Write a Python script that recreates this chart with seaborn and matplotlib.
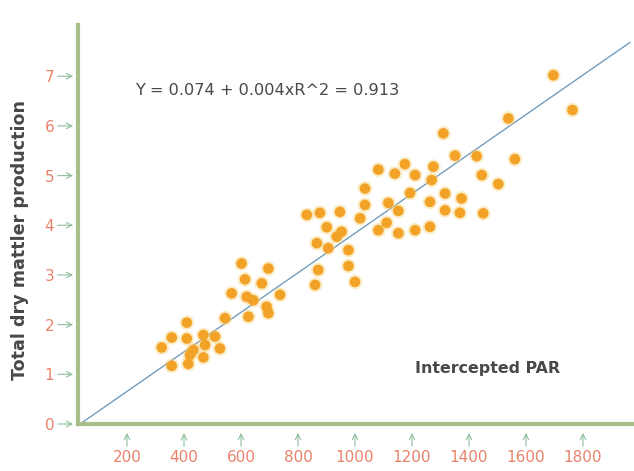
"""
Dry matter production vs intercepted PAR - scatter with fitted line
"""

import numpy as np
import pandas as pd
import matplotlib
matplotlib.use("Agg")
import matplotlib.pyplot as plt
import seaborn as sns

sns.set_style("white")
plt.rcParams['font.family'] = ['DejaVu Sans']

# Data
par = [410, 357, 410, 468, 509, 322, 474, 526, 421, 468, 357, 415, 433,
       602, 696, 614, 673, 567, 620, 643, 737, 690, 696, 626, 544,
       831, 877, 947, 1035, 1018, 1117, 901, 953, 936, 866, 906, 977,
       1082, 1111, 1152, 1211, 1263, 871, 977, 860, 1000,
       1035, 1082, 1175, 1140, 1211, 1275, 1269, 1193, 1263, 1152,
       1316, 1374, 1316, 1368, 1450,
       1310, 1351, 1427, 1561, 1445, 1503, 1538, 1696, 1763]
dry_matter = [2.04, 1.74, 1.72, 1.79, 1.76, 1.54, 1.59, 1.52, 1.39, 1.34, 1.17, 1.21, 1.49,
              3.23, 3.13, 2.91, 2.83, 2.63, 2.56, 2.49, 2.60, 2.36, 2.23, 2.16, 2.13,
              4.21, 4.25, 4.27, 4.41, 4.14, 4.45, 3.96, 3.87, 3.77, 3.64, 3.54, 3.50,
              3.90, 4.05, 3.84, 3.90, 3.97, 3.10, 3.18, 2.80, 2.86,
              4.74, 5.12, 5.23, 5.04, 5.01, 5.18, 4.91, 4.65, 4.47, 4.29,
              4.64, 4.54, 4.30, 4.25, 4.24,
              5.85, 5.40, 5.39, 5.33, 5.01, 4.83, 6.15, 7.02, 6.32]

# fitted line as drawn in the picture
fit_intercept = -0.14
fit_slope = 0.00398
fit_range = [35, 1965]

x_ticks = [200, 400, 600, 800, 1000, 1200, 1400, 1600, 1800]
y_ticks = [0, 1, 2, 3, 4, 5, 6, 7]

equation = "Y = 0.074 + 0.004xR^2 = 0.913"
x_label = "Intercepted PAR"
y_label = "Total dry mattler production"

df = pd.DataFrame({'par': par, 'dm': dry_matter})

AXIS_GREEN = '#a9bf8a'
TICK_GREEN = '#8fbf9c'
LABEL_RED = '#e8836b'
TEXT_GREY = '#484848'

fig = plt.figure(figsize=(6.34, 4.71), dpi=100)
ax = fig.add_axes([0.123, 0.0998, 0.877, 0.847])

# regression line
line_x = np.array(fit_range)
line_y = fit_intercept + fit_slope * line_x
sns.lineplot(x=line_x, y=line_y, ax=ax, color='#729dbf', linewidth=1.0, zorder=2)

# soft glow + orange points
sns.scatterplot(data=df, x='par', y='dm', ax=ax, s=110, color='#f7d070',
                alpha=0.4, edgecolor='none', zorder=3)
sns.scatterplot(data=df, x='par', y='dm', ax=ax, s=58, color='#f2a226',
                edgecolor='none', zorder=4)

ax.set_xlim(28, 1979)
ax.set_ylim(0, 8.03)
ax.set_xticks(x_ticks)
ax.set_yticks(y_ticks)
ax.set_xlabel('')
ax.set_ylabel(y_label, fontsize=12.6, fontweight='semibold', color=TEXT_GREY, labelpad=12)
ax.yaxis.set_label_coords(-0.088, 0.46)

for side in ['top', 'right']:
    ax.spines[side].set_visible(False)
for side in ['left', 'bottom']:
    ax.spines[side].set_color(AXIS_GREEN)
    ax.spines[side].set_linewidth(3)

ax.tick_params(axis='y', length=0, pad=17, labelsize=11, labelcolor=LABEL_RED)
ax.tick_params(axis='x', length=0, pad=19, labelsize=11, labelcolor=LABEL_RED)

# small arrow tick marks
for v in y_ticks:
    ax.annotate('', xy=(0, v), xycoords=('axes fraction', 'data'),
                xytext=(-14.5, 0), textcoords='offset points',
                arrowprops=dict(arrowstyle='->', color=TICK_GREEN, lw=0.8,
                                shrinkA=0, shrinkB=3.5),
                annotation_clip=False)
for v in x_ticks:
    ax.annotate('', xy=(v, 0), xycoords=('data', 'axes fraction'),
                xytext=(0, -16), textcoords='offset points',
                arrowprops=dict(arrowstyle='->', color=TICK_GREEN, lw=0.8,
                                shrinkA=0, shrinkB=6.5),
                annotation_clip=False)

ax.text(0.1025, 0.837, equation, transform=ax.transAxes, fontsize=11.6,
        fontweight='medium', color=TEXT_GREY, va='center', ha='left')
ax.text(0.606, 0.140, x_label, transform=ax.transAxes, fontsize=11.4,
        fontweight='semibold', color=TEXT_GREY, va='center', ha='left')

fig.savefig('out.png', dpi=100)
